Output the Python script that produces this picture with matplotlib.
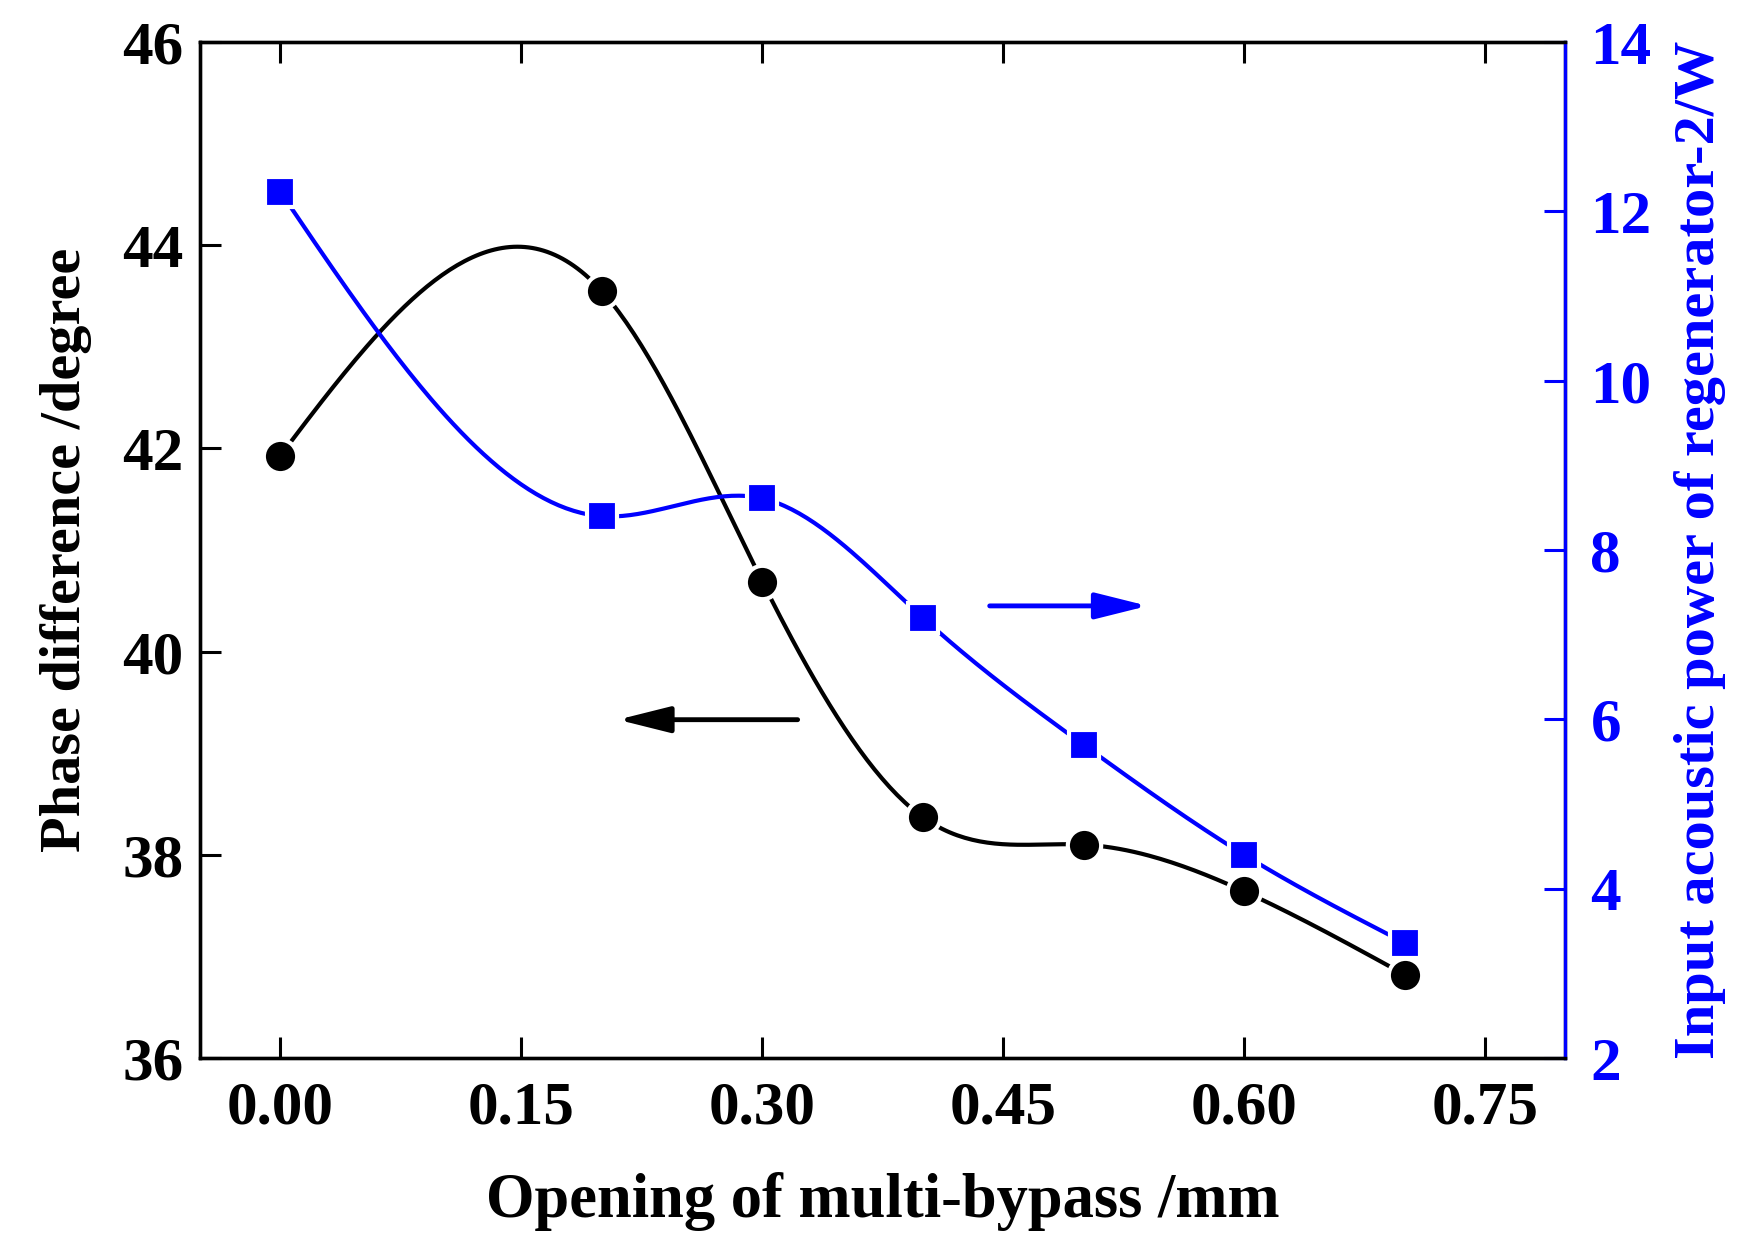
import numpy as np
import matplotlib.pyplot as plt

plt.rcParams['font.family'] = ['Liberation Serif', 'DejaVu Serif']
plt.rcParams['font.weight'] = 'bold'

opening = [0.0, 0.2, 0.3, 0.4, 0.5, 0.6, 0.7]
phase = [41.93, 43.55, 40.69, 38.37, 38.10, 37.64, 36.82]
power = [12.23, 8.40, 8.61, 7.20, 5.70, 4.40, 3.36]


def spline(x, y, n=300):
    # natural cubic spline, like Origin's spline connect
    x = np.asarray(x, float)
    y = np.asarray(y, float)
    m = len(x)
    h = np.diff(x)
    A = np.zeros((m, m))
    b = np.zeros(m)
    A[0, 0] = A[-1, -1] = 1
    for i in range(1, m - 1):
        A[i, i - 1] = h[i - 1]
        A[i, i] = 2 * (h[i - 1] + h[i])
        A[i, i + 1] = h[i]
        b[i] = 6 * ((y[i + 1] - y[i]) / h[i] - (y[i] - y[i - 1]) / h[i - 1])
    M = np.linalg.solve(A, b)
    xs = np.linspace(x[0], x[-1], n)
    k = np.clip(np.searchsorted(x, xs) - 1, 0, m - 2)
    t1 = x[k + 1] - xs
    t0 = xs - x[k]
    ys = (M[k] * t1 ** 3 + M[k + 1] * t0 ** 3) / (6 * h[k]) \
        + (y[k] / h[k] - M[k] * h[k] / 6) * t1 \
        + (y[k + 1] / h[k] - M[k + 1] * h[k] / 6) * t0
    return xs, ys


fig = plt.figure(figsize=(17.37, 12.36), dpi=100)
ax = fig.add_axes([0.1152, 0.144, 0.786, 0.822])
ax2 = ax.twinx()

xs, ys = spline(opening, phase)
ax.plot(xs, ys, color='black', linewidth=3)
ax.plot(opening, phase, 'o', color='black', markersize=24,
        markeredgecolor='white', markeredgewidth=3)

xs, ys = spline(opening, power)
ax2.plot(xs, ys, color='blue', linewidth=3)
ax2.plot(opening, power, 's', color='blue', markersize=22,
         markeredgecolor='white', markeredgewidth=3)

ax.set_xlim(-0.05, 0.80)
ax.set_ylim(36, 46)
ax2.set_ylim(2, 14)
ax.set_xticks([0.0, 0.15, 0.30, 0.45, 0.60, 0.75])
ax.set_xticklabels(['0.00', '0.15', '0.30', '0.45', '0.60', '0.75'])
ax.set_yticks([36, 38, 40, 42, 44, 46])
ax2.set_yticks([2, 4, 6, 8, 10, 12, 14])

ax.tick_params(axis='x', direction='in', length=15, width=2.2, labelsize=44,
               top=True, pad=16)
ax.tick_params(axis='y', direction='in', length=15, width=2.2, labelsize=44,
               pad=12)
ax2.tick_params(axis='y', direction='in', length=15, width=2.2, labelsize=44,
                colors='blue', pad=18)

for s in ax.spines.values():
    s.set_linewidth(2.4)
for s in ax2.spines.values():
    s.set_linewidth(2.4)
ax2.spines['right'].set_color('blue')

ax.set_xlabel('Opening of multi-bypass /mm', fontsize=45, fontweight='bold',
              labelpad=26)
ax.set_ylabel('Phase difference /degree', fontsize=42, fontweight='bold',
              labelpad=22)
ax2.set_ylabel('Input acoustic power of regenerator-2/W', fontsize=42,
               fontweight='bold', color='blue', labelpad=16)

ax.annotate('', xy=(0.21, 39.33), xytext=(0.322, 39.33),
            arrowprops=dict(arrowstyle='-|>,head_length=3.2,head_width=0.8',
                            color='black', lw=3.5, shrinkA=0, shrinkB=0))
ax.annotate('', xy=(0.54, 40.45), xytext=(0.4416, 40.45),
            arrowprops=dict(arrowstyle='-|>,head_length=3.2,head_width=0.8',
                            color='blue', lw=3.5, shrinkA=0, shrinkB=0))

fig.savefig('out.png', dpi=100)
